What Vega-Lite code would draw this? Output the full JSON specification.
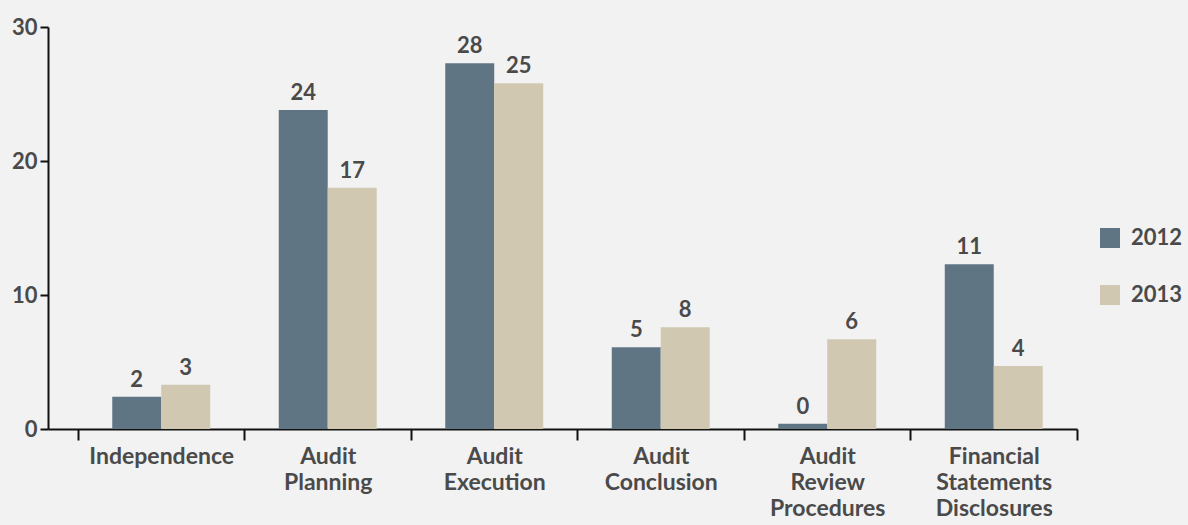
{
  "$schema": "https://vega.github.io/schema/vega-lite/v6.json",
  "width": 1029,
  "height": 402,
  "autosize": {"type": "none"},
  "padding": {"left": 48, "top": 27, "right": 111, "bottom": 96},
  "background": "#f2f2f2",
  "config": {
    "view": {"stroke": null},
    "font": "Lato",
    "axis": {"labelFont": "Lato", "labelFontWeight": "bold", "labelColor": "#4a4a4a", "domainColor": "#111111", "tickColor": "#111111", "domainWidth": 2, "tickWidth": 2, "grid": false, "title": null}
  },
  "data": {
    "values": [
      {"category": "Independence", "year": "2012", "value": 2.4, "label": "2"},
      {"category": "Independence", "year": "2013", "value": 3.3, "label": "3"},
      {"category": "Audit Planning", "year": "2012", "value": 23.8, "label": "24"},
      {"category": "Audit Planning", "year": "2013", "value": 18.0, "label": "17"},
      {"category": "Audit Execution", "year": "2012", "value": 27.3, "label": "28"},
      {"category": "Audit Execution", "year": "2013", "value": 25.8, "label": "25"},
      {"category": "Audit Conclusion", "year": "2012", "value": 6.1, "label": "5"},
      {"category": "Audit Conclusion", "year": "2013", "value": 7.6, "label": "8"},
      {"category": "Audit Review Procedures", "year": "2012", "value": 0.4, "label": "0"},
      {"category": "Audit Review Procedures", "year": "2013", "value": 6.7, "label": "6"},
      {"category": "Financial Statements Disclosures", "year": "2012", "value": 12.3, "label": "11"},
      {"category": "Financial Statements Disclosures", "year": "2013", "value": 4.7, "label": "4"}
    ]
  },
  "encoding": {
    "x": {
      "field": "category",
      "type": "nominal",
      "sort": null,
      "scale": {"paddingInner": 0, "paddingOuter": 0.09, "align": 1},
      "axis": {"labelAngle": 0, "labelFontSize": 23, "labelLineHeight": 26, "labelExpr": "split(datum.label, ' ')", "tickBand": "extent", "tickSize": 11, "labelPadding": 5, "labelBaseline": "top"}
    },
    "xOffset": {"field": "year", "type": "nominal", "scale": {"paddingInner": 0, "paddingOuter": 0.7}},
    "y": {
      "field": "value",
      "type": "quantitative",
      "scale": {"domain": [0, 30], "nice": false},
      "axis": {"values": [0, 10, 20, 30], "labelFontSize": 22, "tickSize": 8, "labelPadding": 3}
    }
  },
  "layer": [
    {
      "mark": {"type": "bar"},
      "encoding": {
        "color": {
          "field": "year",
          "type": "nominal",
          "scale": {"domain": ["2012", "2013"], "range": ["#5f7584", "#d0c8b0"]},
          "legend": {"title": null, "orient": "none", "legendX": 1051, "legendY": 200, "symbolType": "square", "symbolSize": 400, "symbolStrokeWidth": 0, "labelFontSize": 22, "labelFontWeight": "bold", "labelColor": "#4a4a4a", "labelFont": "Lato", "rowPadding": 35, "labelOffset": 10}
        }
      }
    },
    {
      "mark": {"type": "text", "baseline": "alphabetic", "dy": -10, "fontSize": 22, "fontWeight": "bold", "color": "#4a4a4a", "font": "Lato"},
      "encoding": {"text": {"field": "label"}}
    }
  ]
}
